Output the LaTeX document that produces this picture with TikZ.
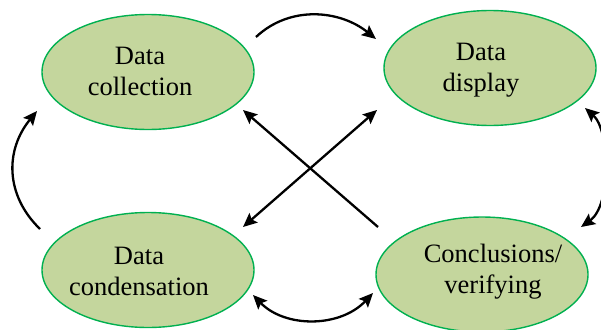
\documentclass[tikz,border=0pt]{standalone}
\usepackage{fontspec}
\setmainfont{Liberation Serif}
\usetikzlibrary{arrows.meta,shapes.geometric}
\definecolor{stagefill}{RGB}{196,214,157}
\definecolor{stageline}{RGB}{0,176,80}
\begin{document}
\begin{tikzpicture}[x=1pt,y=-1pt,
  stage/.style={ellipse, draw=stageline, fill=stagefill, line width=1.4pt,
    inner sep=0pt, minimum width=212pt, minimum height=115pt},
  stagetext/.style={anchor=base, inner sep=0pt,
    font=\fontsize{26.5}{31}\selectfont},
  tip/.tip={Stealth[length=14pt,width=12.5pt,inset=2.5pt]},
  flow/.style={line width=2.3pt, -tip},
  twoway/.style={line width=2.3pt, tip-tip}]
\useasboundingbox (0,0) rectangle (601,329);

% the four stages
\node[stage] (col)  at (148,72)    {};
\node[stage] (disp) at (490,68)    {};
\node[stage] (cond) at (148,270)   {};
\node[stage] (conc) at (482,274.5) {};

\node[stagetext] (colt)  at (140,64)  {\begin{tabular}[t]{@{}c@{}}Data\\collection\end{tabular}};
\node[stagetext] (dispt) at (481,60)  {\begin{tabular}[t]{@{}c@{}}Data\\display\end{tabular}};
\node[stagetext] (condt) at (139,264) {\begin{tabular}[t]{@{}c@{}}Data\\condensation\end{tabular}};
\node[stagetext] (conct) at (493,262) {\begin{tabular}[t]{@{}c@{}}Conclusions/\\verifying\end{tabular}};

% connector end points, just outside the ellipses
\coordinate (colR)   at (256,37);
\coordinate (dispL)  at (376,39);
\coordinate (condL)  at (40,229);
\coordinate (colL)   at (37,111);
\coordinate (dispR)  at (585,108);
\coordinate (concR)  at (581,227);
\coordinate (condB)  at (253,295);
\coordinate (concB)  at (373,293);
\coordinate (concUL) at (378,227);
\coordinate (colLR)  at (243,110);
\coordinate (condUR) at (243,227);
\coordinate (dispLL) at (377,110);

% cycle arrows
\draw[flow]   (colR)  .. controls (290,5) and (340,10) .. (dispL);
\draw[flow]   (condL) .. controls (5,195) and (5,150) .. (colL);
\draw[twoway] (dispR) .. controls (610,130) and (612,205) .. (concR);
\draw[twoway] (condB) .. controls (285,328) and (340,328) .. (concB);

% crossing arrows
\draw[flow]   (concUL) -- (colLR);
\draw[twoway] (condUR) -- (dispLL);
\end{tikzpicture}
\end{document}
